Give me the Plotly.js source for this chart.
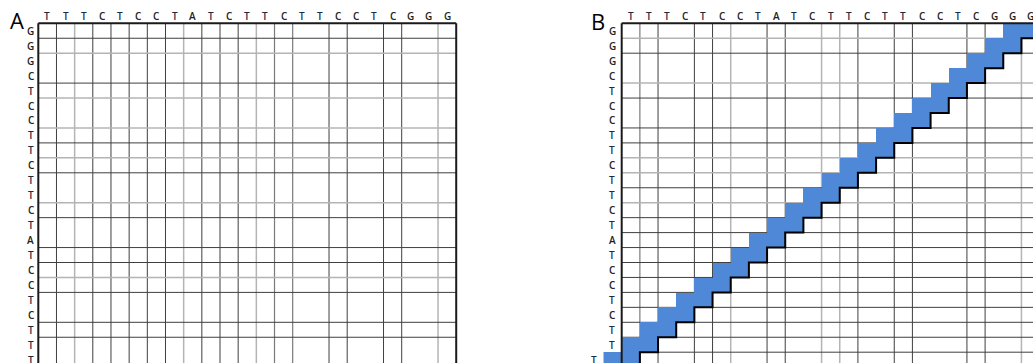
<!DOCTYPE html>
<html><head><meta charset="utf-8">
<script src="https://cdn.plot.ly/plotly-3.0.1.min.js"></script>
<style>html,body{margin:0;padding:0;background:#fff;}#chart{width:1033px;height:363px;}</style>
</head><body><div id="chart"></div>
<script>
// ---------- data ----------
const topSeq  = ['T','T','T','C','T','C','C','T','A','T','C','T','T','C','T','T','C','C','T','C','G','G','G'];
const leftSeq = ['G','G','G','C','T','C','C','T','T','C','T','T','C','T','A','T','C','C','T','C','T','T','T'];
const panelLabels = ['A','B'];
// panel B: first matched column in each row (two matched cells per row)
const matchStart = [21,20,19,18,17,16,15,14,13,12,11,10,9,8,7,6,5,4,3,2,1,0,-1];
const matchWidth = [2,2,2,2,2,2,2,2,2,2,2,2,2,2,2,2,2,2,2,2,2,2,2];

// ---------- styles of the grid lines (as rendered in the reference) ----------
const vStyleA = ['B','D','L','D','D','D','D','D','L','D','D','D','L','M','M','N','D','D','N','D','D','N','L','B'];
const hStyleA = ['B','D','L','N','D','L','N','L','D','L','D','N','L','D','N','D','D','L','D','N','D','D','N','B'];
const vStyleB = ['B','M','D','N','D','D','L','N','D','D','N','L','L','D','N','D','D','N','N','D','D','N','L','B'];
const hStyleB = ['B','L','D','N','L','D','N','D','D','L','L','D','L','D','D','D','D','D','D','D','D','D','D','B'];
const lineStyles = {
  D:{color:'#3f3f3f', width:1},
  M:{color:'#7a7a7a', width:1.2},
  L:{color:'#b4b4b4', width:1.5},
  B:{color:'#1a1a1a', width:2}
};

// ---------- geometry (pixels) ----------
const W = 1033, H = 363;
const colW = 18.17, rowH = 14.95, gridTop = 23.3;
const gridLeftA = 38.3, gridLeftB = 621.7;
const domA = [0, 0.48], domB = [0.5, 1];
const nCols = topSeq.length, nRows = leftSeq.length;

function xRange(dom, left){
  return [(dom[0]*W - left)/colW, (dom[1]*W - left)/colW];
}
const yRange = [(H - gridTop)/rowH, (0 - gridTop)/rowH];

const traces = [];
// matched cells (panel B)
const cellX = [], cellZ = [];
for (let c = -1; c < nCols; c++) cellX.push(c + 0.5);
const cellY = leftSeq.map((_, r) => r + 0.5);
for (let r = 0; r < nRows; r++){
  const row = [];
  for (let c = -1; c < nCols; c++){
    row.push(c >= matchStart[r] && c < matchStart[r] + matchWidth[r] ? 1 : null);
  }
  cellZ.push(row);
}
traces.push({
  type:'heatmap', x:cellX, y:cellY, z:cellZ, xaxis:'x2', yaxis:'y2',
  colorscale:[[0,'#4f88d6'],[1,'#4f88d6']], zmin:0, zmax:1, showscale:false,
  hoverinfo:'skip', xgap:0, ygap:0
});
// stair edge along the lower-right side of the matched cells
const sx = [], sy = [];
for (let r = 0; r < nRows; r++){
  const xr = matchStart[r] + matchWidth[r];
  sx.push(xr, xr); sy.push(r, r + 1);
}
traces.push({type:'scatter', mode:'lines', x:sx, y:sy, xaxis:'x2', yaxis:'y2',
  line:{color:'#000', width:2}, hoverinfo:'skip', showlegend:false});

// ---------- grid shapes ----------
const shapes = [];
function gridShapes(xref, yref, vStyle, hStyle){
  for (let k = 0; k <= nCols; k++){
    const s = vStyle[k]; if (s === 'N') continue;
    shapes.push({type:'line', xref, yref, x0:k, x1:k, y0:0, y1:nRows,
      line:lineStyles[s], layer: s === 'B' ? 'above' : 'below'});
  }
  for (let k = 0; k <= nRows; k++){
    const s = hStyle[k]; if (s === 'N') continue;
    shapes.push({type:'line', xref, yref, x0:0, x1:nCols, y0:k, y1:k,
      line:lineStyles[s], layer: s === 'B' ? 'above' : 'below'});
  }
}
gridShapes('x','y', vStyleA, hStyleA);
gridShapes('x2','y2', vStyleB, hStyleB);

// ---------- labels ----------
const annotations = [];
const lblFont = (ch) => ({family:'Open Sans, DejaVu Sans, sans-serif', size:10, color: ch === 'T' ? '#1f2b40' : '#222222', weight:600});
function seqLabels(xref, yref, leftShift, leftX){
  topSeq.forEach((ch, c) => annotations.push({xref, yref, x:c + 0.5, y:0, text:ch, showarrow:false,
    xanchor:'center', yanchor:'middle', yshift:7.5, font:lblFont(ch)}));
  leftSeq.forEach((ch, r) => annotations.push({xref, yref, x:leftX(r), y:r + 0.5, text:ch, showarrow:false,
    xanchor:'center', yanchor:'middle', xshift:leftShift, font:lblFont(ch)}));
}
seqLabels('x','y', -7.5, () => 0);
seqLabels('x2','y2', -9.5, (r) => Math.min(0, matchStart[r]));
const panelPos = [[16.5, 19.5], [597.5, 21]];
panelLabels.forEach((t, i) => annotations.push({xref:'paper', yref:'paper',
  x:panelPos[i][0]/W, y:1 - panelPos[i][1]/H, text:t, showarrow:false,
  xanchor:'center', yanchor:'middle',
  font:{family:'Open Sans, sans-serif', size:22, color:'#000'}}));

const axisBase = {visible:false, showgrid:false, zeroline:false, fixedrange:true};
const layout = {
  width:W, height:H, margin:{l:0, r:0, t:0, b:0},
  paper_bgcolor:'#fff', plot_bgcolor:'rgba(0,0,0,0)', showlegend:false,
  xaxis:Object.assign({}, axisBase, {domain:domA, range:xRange(domA, gridLeftA)}),
  yaxis:Object.assign({}, axisBase, {domain:[0,1], range:yRange}),
  xaxis2:Object.assign({}, axisBase, {domain:domB, range:xRange(domB, gridLeftB), anchor:'y2'}),
  yaxis2:Object.assign({}, axisBase, {domain:[0,1], range:yRange, anchor:'x2'}),
  shapes, annotations
};
Plotly.newPlot('chart', traces, layout, {displayModeBar:false, staticPlot:true});
</script>
</body></html>
